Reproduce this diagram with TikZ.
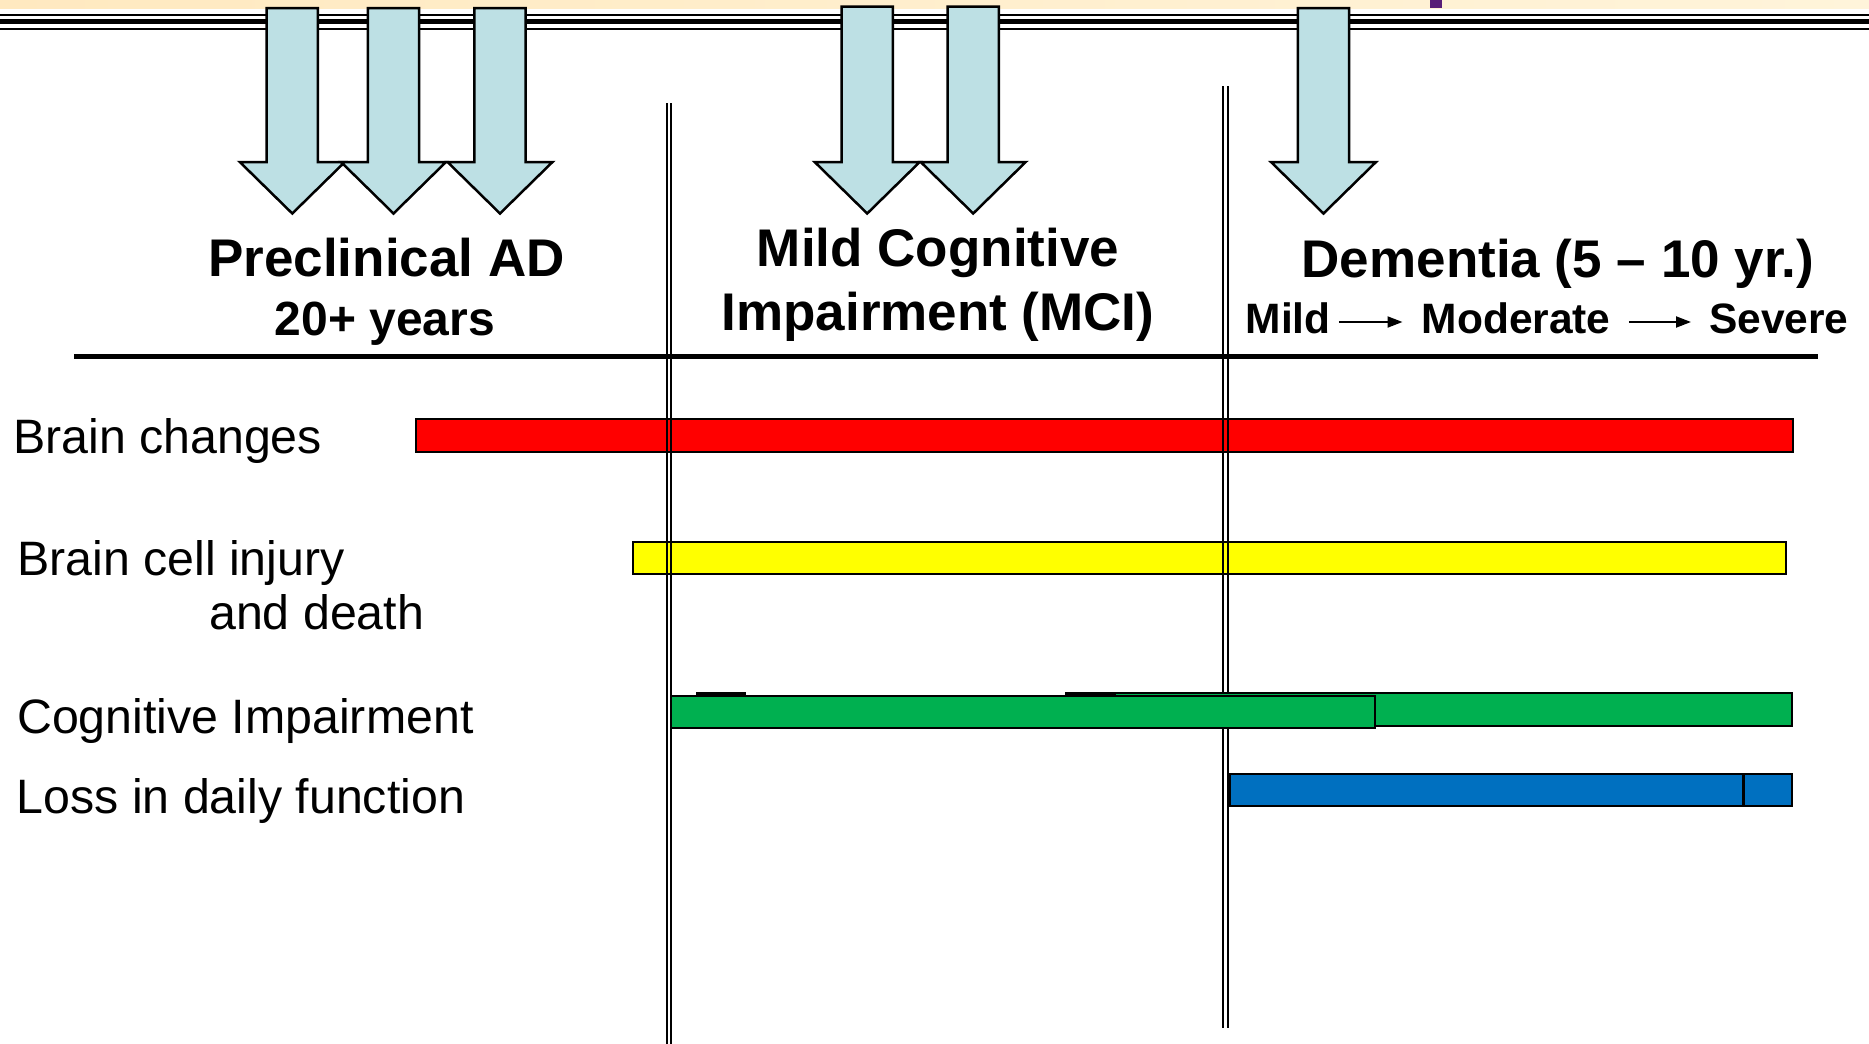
\documentclass[tikz,border=0pt]{standalone}
\usepackage{fontspec}
\setmainfont{Liberation Sans}
\usetikzlibrary{arrows.meta}
\definecolor{arrowfill}{RGB}{189,224,228}
\definecolor{bandleft}{RGB}{255,233,192}
\definecolor{bandright}{RGB}{255,244,218}
\definecolor{markpurple}{RGB}{88,30,120}
\definecolor{barred}{RGB}{255,0,0}
\definecolor{baryellow}{RGB}{255,255,0}
\definecolor{bargreen}{RGB}{0,176,80}
\definecolor{barblue}{RGB}{0,112,192}
\newcommand{\downarr}[2]{%
  \draw[downarrow] (#1-25.6,#2) -- (#1+25.6,#2) -- (#1+25.6,162) -- (#1+52.5,162)
    -- (#1,213.5) -- (#1-52.5,162) -- (#1-25.6,162) -- cycle;}
\begin{document}
\begin{tikzpicture}[x=1pt,y=-1pt,
  headtxt/.style={font=\bfseries\fontsize{53}{60}\selectfont, inner sep=0pt, anchor=base},
  subtxt/.style={font=\bfseries\fontsize{48}{55}\selectfont, inner sep=0pt, anchor=base},
  dtxt/.style={font=\bfseries\fontsize{42.5}{48}\selectfont, inner sep=0pt, anchor=base west},
  labtxt/.style={font=\fontsize{48.3}{54}\selectfont, inner sep=0pt, anchor=base west},
  bar/.style={draw=black, line width=2pt},
  downarrow/.style={fill=arrowfill, draw=black, line width=2.5pt, line join=miter},
  vline/.style={draw=black, line width=2pt},
  tinyarrow/.style={draw=black, line width=2pt, -{Triangle[length=15pt,width=11pt]}}
]
\useasboundingbox (0,0) rectangle (1869,1044);
\fill[white] (0,0) rectangle (1869,1044);
% top band and rules
\shade[left color=bandleft, right color=bandright] (0,0) rectangle (1869,8);
\fill[markpurple] (1430,0) rectangle (1442,7.5);
\draw[line width=2pt] (0,15) -- (1869,15);
\draw[line width=4.7pt] (0,21.7) -- (1869,21.7);
\draw[line width=2pt] (0,29) -- (1869,29);
% down arrows
\downarr{292.3}{8}
\downarr{393.5}{8}
\downarr{500}{8}
\downarr{867.2}{6.5}
\downarr{973.2}{6.5}
\downarr{1323.5}{8}
% headings
\node[headtxt] (pre) at (386.5,276) {Preclinical AD};
\node[subtxt] (years) at (385,335) {20+ years};
\node[headtxt] (mci1) at (938,266) {Mild Cognitive};
\node[headtxt] (mci2) at (938,330) {Impairment (MCI)};
\node[headtxt] (dem) at (1558,277) {Dementia (5 – 10 yr.)};
\node[dtxt] (mild) at (1245.5,333.5) {Mild};
\node[dtxt] (moderate) at (1421.5,333.5) {Moderate};
\node[dtxt] (severe) at (1709,333.5) {Severe};
\coordinate (arrowrow) at (0,322);
\draw[tinyarrow, shorten <=8pt, shorten >=19pt] (mild.east |- arrowrow) -- (moderate.west |- arrowrow);
\draw[tinyarrow, shorten <=18pt, shorten >=18pt] (moderate.east |- arrowrow) -- (severe.west |- arrowrow);
% separator
\draw[line width=4.5pt] (74,356.4) -- (1818,356.4);
% labels
\node[labtxt] (lab1) at (13,453) {Brain changes};
\node[labtxt] (lab2) at (17,575.7) {Brain cell injury};
\node[labtxt] (lab2b) at (209,629.5) {and death};
\node[labtxt] (lab3) at (17,733) {Cognitive Impairment};
\node[labtxt] (lab4) at (16.5,813) {Loss in daily function};
% red and yellow bars
\draw[bar, fill=barred] (416,419) rectangle (1792.8,451.5);
\draw[bar, fill=baryellow] (633.3,542.3) rectangle (1785.6,574.3);
% vertical double lines
\draw[vline] (666.7,103) -- (666.7,1044);
\draw[vline] (671,103) -- (671,1044);
\draw[vline] (1223.3,86) -- (1223.3,1028);
\draw[vline] (1227.7,86) -- (1227.7,1028);
% green bars
\draw[bar, fill=bargreen] (1114.5,693.3) rectangle (1792.4,725.7);
\draw[bar, fill=bargreen] (670.6,696) rectangle (1374.6,728.3);
\fill[black] (696,692.3) rectangle (746,696);
\fill[black] (1065,692.3) rectangle (1114.5,696);
% blue bars
\draw[bar, fill=barblue] (1229.8,774) rectangle (1743,806);
\draw[bar, fill=barblue] (1744.2,774) rectangle (1792.4,806);
\end{tikzpicture}
\end{document}
